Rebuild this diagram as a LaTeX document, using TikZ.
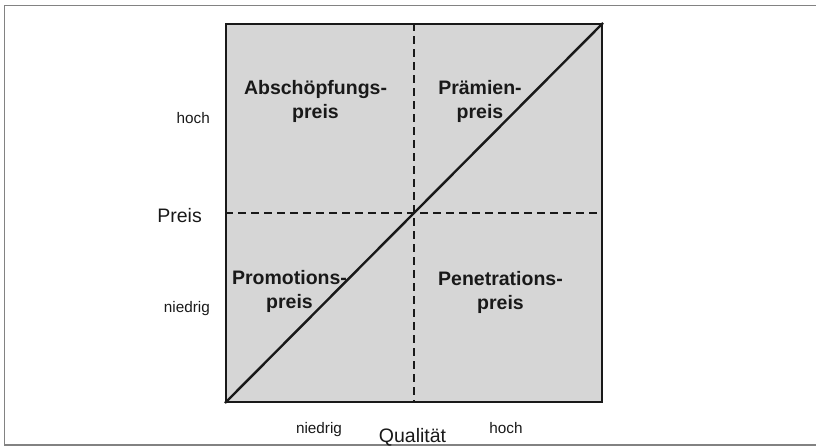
\documentclass[tikz,border=0pt]{standalone}
\usepackage{fontspec}
\setmainfont{Liberation Sans}
\definecolor{fieldgray}{RGB}{214,214,214}
\definecolor{framegray}{RGB}{130,130,130}
\definecolor{ink}{RGB}{25,25,25}
\begin{document}
\begin{tikzpicture}[x=1pt,y=-1pt,
  quadlabel/.style={font=\fontsize{19.5}{24}\selectfont\bfseries, text=ink, align=center, inner sep=0pt},
  axislabel/.style={font=\fontsize{15.3}{18}\selectfont, text=ink, inner sep=0pt},
  axistitle/.style={font=\fontsize{19.5}{23}\selectfont, text=ink, inner sep=0pt},
  divider/.style={line width=1.5pt, dash pattern=on 8pt off 5pt, draw=ink},
  diag/.style={line width=2.4pt, draw=ink}]
\useasboundingbox (0,0) rectangle (816,447);
\coordinate (fa) at (820,5.5);
\coordinate (fb) at (4.8,5.5);
\coordinate (fc) at (4.8,445);
\coordinate (fd) at (820,445);
\draw[framegray, line width=1.2pt] (fa) -- (fb) -- (fc) -- (fd);
\node[draw=ink, line width=2pt, fill=fieldgray, minimum width=376pt, minimum height=378pt, inner sep=0pt] (sq) at (414,213) {};
\draw[divider] (sq.north) -- (sq.south);
\draw[divider] (sq.west) -- (sq.east);
\draw[diag] (sq.south west) -- (sq.north east);
\node[quadlabel] (abs) at (315.5,101) {Abschöpfungs-\\preis};
\node[quadlabel] (pra) at (480,101) {Prämien-\\preis};
\node[quadlabel] (pro) at (289.5,291) {Promotions-\\preis};
\node[quadlabel] (pen) at (500.5,292) {Penetrations-\\preis};
\node[axislabel, anchor=base east] (yhoch) at (210,123) {hoch};
\node[axistitle, anchor=base east] (preis) at (202,222) {Preis};
\node[axislabel, anchor=base east] (ynied) at (210,312) {niedrig};
\node[axislabel, anchor=base] (xnied) at (319,433) {niedrig};
\node[axistitle, anchor=base] (qual) at (412.5,442) {Qualität};
\node[axislabel, anchor=base] (xhoch) at (506,433) {hoch};
\end{tikzpicture}
\end{document}
